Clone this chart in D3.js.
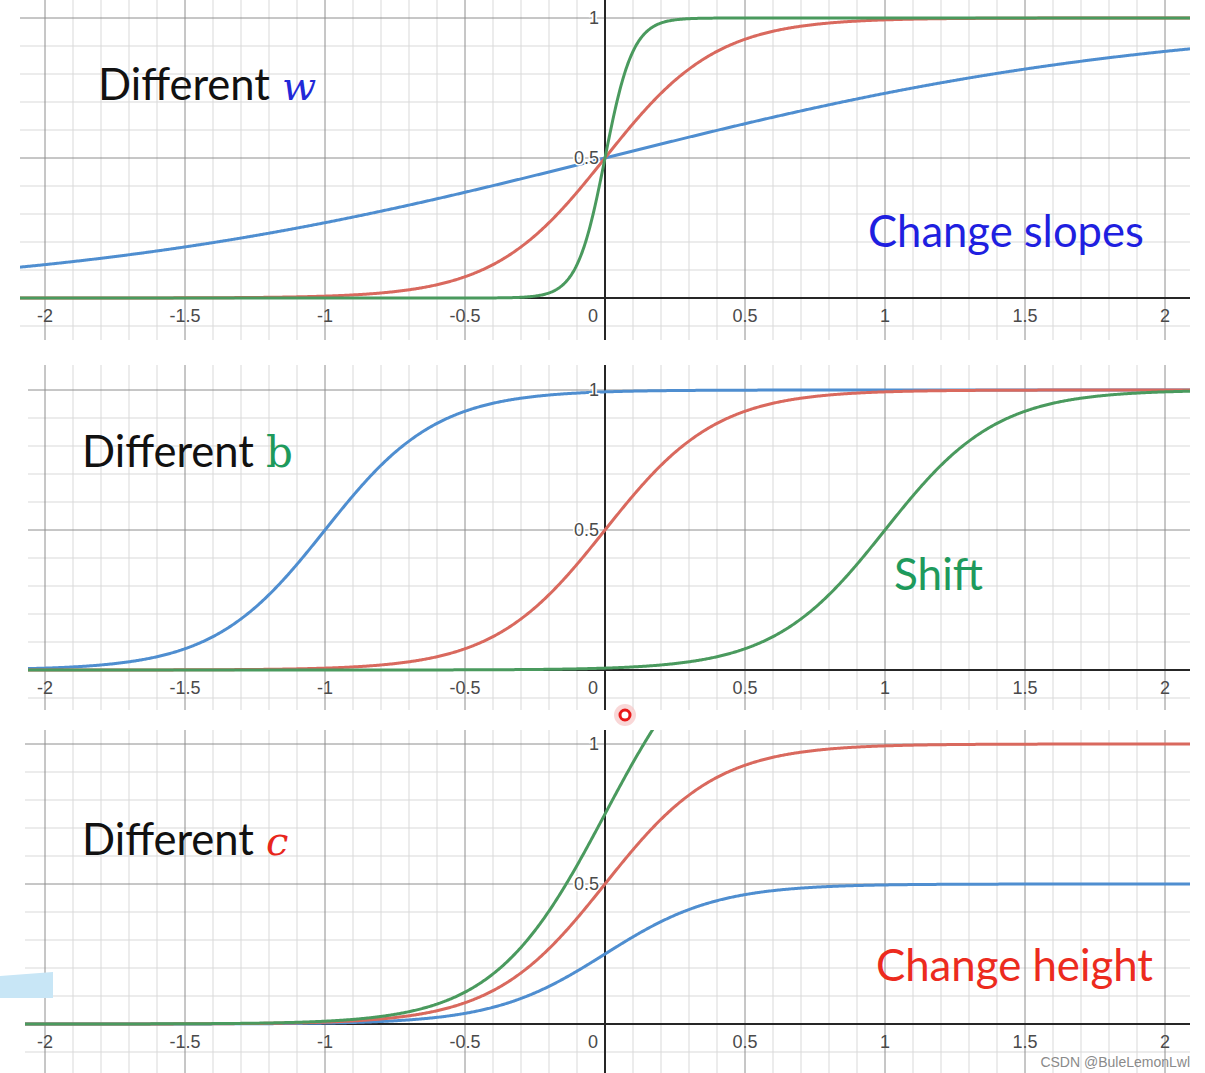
<!DOCTYPE html>
<html><head><meta charset="utf-8">
<script src="https://cdn.jsdelivr.net/npm/d3@7"></script>
<style>html,body{margin:0;padding:0;background:#fff;}svg{display:block;}</style>
</head><body>
<svg id="chart" width="1205" height="1073"></svg>
<script>
// ---- data ----
const xTickValues = [-2, -1.5, -1, -0.5, 0, 0.5, 1, 1.5, 2];
const xTickLabels = ["-2", "-1.5", "-1", "-0.5", "0", "0.5", "1", "1.5", "2"];
const yTickValues = [0.5, 1];
const yTickLabels = ["0.5", "1"];
const seriesNames = ["blue", "red", "green"];
// panel 1: y = sigmoid(w x)
const panel1W = [1, 5, 20];
const panel1B = [0, 0, 0];
const panel1C = [1, 1, 1];
// panel 2: y = sigmoid(5x + b)
const panel2W = [5, 5, 5];
const panel2B = [5, 0, -5];
const panel2C = [1, 1, 1];
// panel 3: y = c * sigmoid(5x)
const panel3W = [5, 5, 5];
const panel3B = [0, 0, 0];
const panel3C = [0.5, 1, 1.5];
const titleWords = ["Different", "Different", "Different"];
const titleVars = ["w", "b", "c"];
const noteTexts = ["Change slopes", "Shift", "Change height"];
const watermark = "CSDN @BuleLemonLwl";

// ---- styles / layout ----
const colors = {blue: "#4f8ed0", red: "#d9695e", green: "#4a9a5e"};
const svg = d3.select("#chart");

const panels = [
  {w: panel1W, b: panel1B, c: panel1C, y0: 298, y1: 18, clip: [20, 0, 1190, 340],
   title: {x: 98, y: 100, w: 172, varColor: "#2229d8", italic: true},
   note: {x: 868, y: 247, w: 276, color: "#1f1fe0"}},
  {w: panel2W, b: panel2B, c: panel2C, y0: 670, y1: 390, clip: [28, 365, 1190, 710],
   title: {x: 82, y: 467, w: 172, varColor: "#1e9a5c", italic: false},
   note: {x: 894, y: 590, w: 89, color: "#1e9a5c"}},
  {w: panel3W, b: panel3B, c: panel3C, y0: 1024, y1: 744, clip: [25, 730, 1190, 1073],
   title: {x: 82, y: 855, w: 172, varColor: "#e8261c", italic: true},
   note: {x: 876, y: 981, w: 277, color: "#ec2b1e"}}
];

const sigmoid = z => 1 / (1 + Math.exp(-z));

panels.forEach((p, pi) => {
  const x = d3.scaleLinear().domain([-2, 2]).range([45, 1165]);
  const y = d3.scaleLinear().domain([0, 1]).range([p.y0, p.y1]);
  const [L, T, R, B] = p.clip;
  const g = svg.append("g");
  const clipId = "clip" + pi;
  svg.append("clipPath").attr("id", clipId).append("rect")
    .attr("x", L).attr("y", T).attr("width", R - L).attr("height", B - T);
  const gc = g.append("g").attr("clip-path", `url(#${clipId})`);

  const xs = d3.range(Math.ceil(x.invert(L) * 10), Math.floor(x.invert(R) * 10) + 1);
  const ys = d3.range(Math.ceil(y.invert(B) * 10), Math.floor(y.invert(T) * 10) + 1);
  // minor grid
  gc.selectAll(".vmin").data(xs.filter(k => k % 5 !== 0)).enter().append("line")
    .attr("x1", k => x(k / 10)).attr("x2", k => x(k / 10)).attr("y1", T).attr("y2", B)
    .attr("stroke", "#d9d9d9").attr("stroke-width", 1);
  gc.selectAll(".hmin").data(ys.filter(k => k % 5 !== 0)).enter().append("line")
    .attr("y1", k => y(k / 10)).attr("y2", k => y(k / 10)).attr("x1", L).attr("x2", R)
    .attr("stroke", "#d9d9d9").attr("stroke-width", 1);
  // major grid
  gc.selectAll(".vmaj").data(xs.filter(k => k % 5 === 0 && k !== 0)).enter().append("line")
    .attr("x1", k => x(k / 10)).attr("x2", k => x(k / 10)).attr("y1", T).attr("y2", B)
    .attr("stroke", "#8e8e8e").attr("stroke-width", 1);
  gc.selectAll(".hmaj").data(ys.filter(k => k % 5 === 0 && k !== 0)).enter().append("line")
    .attr("y1", k => y(k / 10)).attr("y2", k => y(k / 10)).attr("x1", L).attr("x2", R)
    .attr("stroke", "#8e8e8e").attr("stroke-width", 1);
  // axes
  gc.append("line").attr("x1", L).attr("x2", R).attr("y1", y(0)).attr("y2", y(0))
    .attr("stroke", "#262626").attr("stroke-width", 2);
  gc.append("line").attr("x1", x(0)).attr("x2", x(0)).attr("y1", T).attr("y2", B)
    .attr("stroke", "#262626").attr("stroke-width", 2);

  // tick labels
  const lab = g.append("g").attr("font-family", "Liberation Sans, Arial, sans-serif")
    .attr("font-size", 18).attr("fill", "#4a4a4a");
  lab.selectAll(".xt").data(xTickValues).enter().append("text")
    .attr("x", (d) => d === 0 ? x(0) - 12 : x(d))
    .attr("y", y(0) + 24)
    .attr("text-anchor", "middle")
    .text((d, i) => xTickLabels[i]);
  lab.selectAll(".yt").data(yTickValues).enter().append("text")
    .attr("x", x(0) - 6).attr("y", d => y(d)).attr("dy", "0.35em")
    .attr("text-anchor", "end")
    .attr("stroke", "#fff").attr("stroke-width", 3).attr("paint-order", "stroke")
    .text((d, i) => yTickLabels[i]);

  // curves
  const pts = d3.range(L, R + 1, 1).map(px => x.invert(px));
  seriesNames.forEach((name, si) => {
    const line = d3.line()
      .x(d => x(d))
      .y(d => y(p.c[si] * sigmoid(p.w[si] * d + p.b[si])));
    gc.append("path").datum(pts).attr("d", line)
      .attr("fill", "none").attr("stroke", colors[name]).attr("stroke-width", 3)
      .attr("stroke-linejoin", "round");
  });

  // title text
  const t = svg.append("text").attr("x", p.title.x).attr("y", p.title.y)
    .attr("font-family", "Lato, 'Open Sans', sans-serif").attr("font-size", 40).attr("fill", "#111")
    .text(titleWords[pi]);
  const tw = t.node().getComputedTextLength();
  t.attr("font-size", 40 * p.title.w / tw);
  const endX = p.title.x + p.title.w + 12;
  svg.append("text").attr("x", endX).attr("y", p.title.y)
    .attr("font-family", "'DejaVu Serif', 'Liberation Serif', serif")
    .attr("font-style", p.title.italic ? "italic" : "normal")
    .attr("font-size", p.title.italic ? 40 : 42)
    .attr("fill", p.title.varColor)
    .text(titleVars[pi]);

  const n = svg.append("text").attr("x", p.note.x).attr("y", p.note.y)
    .attr("font-family", "Lato, 'Open Sans', sans-serif").attr("font-size", 40).attr("fill", p.note.color)
    .text(noteTexts[pi]);
  const nw = n.node().getComputedTextLength();
  n.attr("font-size", 40 * p.note.w / nw);
});

// screen-capture artefacts
svg.append("polygon").attr("points", "0,976 53,972 53,998 0,998").attr("fill", "#c8e6f6");
svg.append("circle").attr("cx", 625).attr("cy", 715).attr("r", 11).attr("fill", "#f7c6c6").attr("opacity", 0.7);
svg.append("circle").attr("cx", 625).attr("cy", 715).attr("r", 5).attr("fill", "#fff")
  .attr("stroke", "#e81818").attr("stroke-width", 3);

svg.append("text").attr("x", 1190).attr("y", 1067).attr("text-anchor", "end")
  .attr("font-family", "Liberation Sans, Arial, sans-serif").attr("font-size", 14)
  .attr("fill", "#8a8a8a").text(watermark);
</script>
</body></html>
